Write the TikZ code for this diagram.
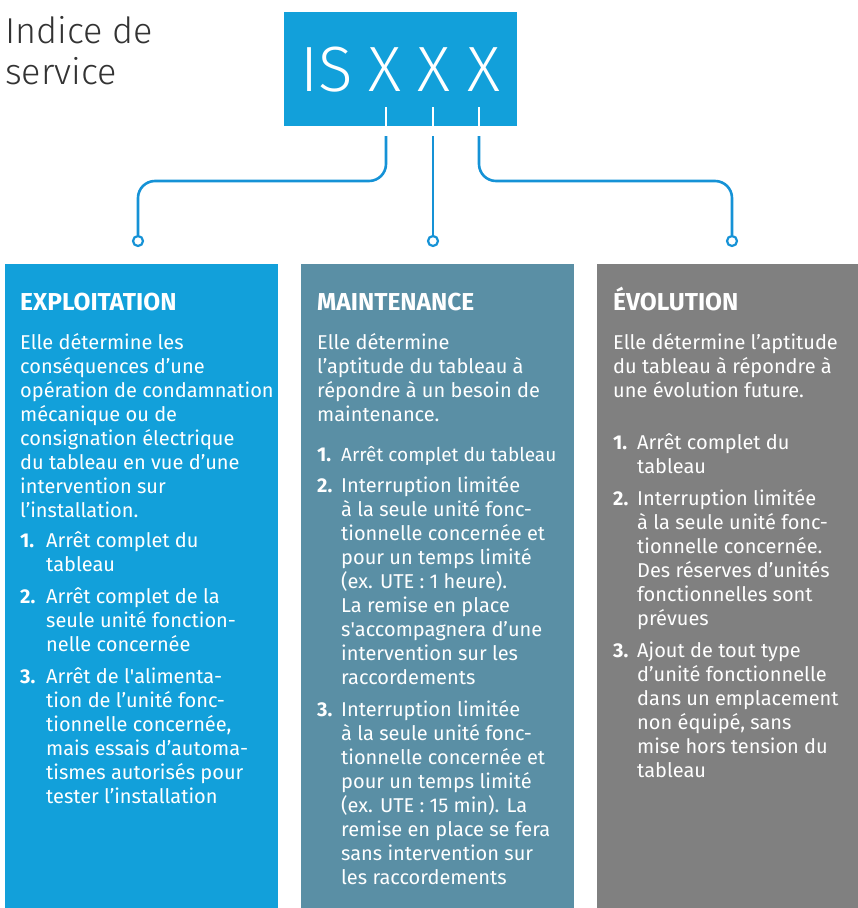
\documentclass[tikz,border=0pt]{standalone}
\usepackage{fontspec}
\setmainfont{Fira Sans}
\newfontfamily\lightfont{Fira Sans Light}
\usepackage{tikz}
\usetikzlibrary{positioning}

\definecolor{isblue}{HTML}{12A0DA}
\definecolor{isteal}{HTML}{5A8FA5}
\definecolor{isgrey}{HTML}{808080}
\definecolor{isline}{HTML}{1592D6}
\definecolor{isdark}{HTML}{333333}

% lines stacked from the baseline of the first one
\newcommand{\colpar}[1]{\begin{tabular}[t]{@{}l@{}}#1\end{tabular}}

\tikzset{
  colbox/.style={inner sep=0pt, anchor=north west, minimum height=644pt},
  codechar/.style={anchor=base, inner sep=0pt, text=white, font=\lightfont\fontsize{64}{64}\selectfont},
  coltitle/.style={anchor=base west, inner sep=0pt, text=white, font=\fontsize{24.5}{26}\selectfont\bfseries},
  coltext/.style={anchor=base west, inner sep=0pt, text=white, font=\fontsize{20}{24}\selectfont},
  itemnum/.style={coltext, font=\fontsize{20}{24}\selectfont\bfseries},
  link/.style={draw=isline, line width=2.6pt, rounded corners=17pt},
  endring/.style={circle, draw=isline, line width=2.2pt, fill=white, minimum size=10pt, inner sep=0pt},
}

\begin{document}
\begin{tikzpicture}[x=1pt,y=-1pt]
\useasboundingbox (0,0) rectangle (858,908);
% heading
\node[anchor=base west, inner sep=0pt, text=isdark, font=\lightfont\fontsize{36}{41}\selectfont] (title) at (5,43) {\colpar{Indice de\\service}};
% code box
\node[fill=isblue, inner sep=0pt, anchor=north west, minimum width=233pt, minimum height=114pt] (code) at (284,12) {};
\node[codechar] (cIS) at (327,91) {IS};
\node[codechar] (cX1) at (385,91) {X};
\node[codechar] (cX2) at (434,91) {X};
\node[codechar] (cX3) at (484,91) {X};
\foreach \n/\x in {1/386,2/433,3/479}{
  \draw[white, line width=1.4pt] (\x,107) -- (\x,126);
  \coordinate (t\n) at (\x,136);
}
% connectors
\coordinate (bend) at (0,181);
\node[endring] (d1) at (138,241) {};
\node[endring] (d2) at (433,241) {};
\node[endring] (d3) at (732,241) {};
\draw[link] (t1) -- (t1 |- bend) -- (d1 |- bend) -- (d1);
\draw[link] (t2) -- (d2);
\draw[link] (t3) -- (t3 |- bend) -- (d3 |- bend) -- (d3);
% columns
\node[colbox, fill=isblue, minimum width=273pt] (colExp) at (5,264) {};
\node[colbox, fill=isteal, minimum width=273pt] (colMaint) at (301,264) {};
\node[colbox, fill=isgrey, minimum width=261pt] (colEvol) at (597,264) {};

% exploitation
\node[coltitle] (hExp) at (20,310) {EXPLOITATION};
\node[coltext] (pExp) at (20,349) {\colpar{Elle détermine les\\conséquences d’une\\opération de condamnation\\mécanique ou de\\consignation électrique\\du tableau en vue d’une\\intervention sur\\l’installation.}};
\node[itemnum] (nExp1) at (20,547) {1.};
\node[coltext] (iExp1) at (46,547) {\colpar{Arrêt complet du\\tableau}};
\node[itemnum] (nExp2) at (20,603) {2.};
\node[coltext] (iExp2) at (46,603) {\colpar{Arrêt complet de la\\seule unité fonction-\\nelle concernée}};
\node[itemnum] (nExp3) at (20,683) {3.};
\node[coltext] (iExp3) at (46,683) {\colpar{Arrêt de l\textquotesingle alimenta-\\tion de l’unité fonc-\\tionnelle concernée,\\mais essais d’automa-\\tismes autorisés pour\\tester l’installation}};

% maintenance
\node[coltitle] (hMaint) at (317,310) {MAINTENANCE};
\node[coltext] (pMaint) at (317,349) {\colpar{Elle détermine\\l’aptitude du tableau à\\répondre à un besoin de\\maintenance.}};
\node[itemnum] (nMaint1) at (317,461) {1.};
\node[coltext, font=\fontsize{19}{24}\selectfont] (iMaint1) at (341,461) {Arrêt complet du tableau};
\node[itemnum] (nMaint2) at (317,492) {2.};
\node[coltext] (iMaint2) at (341,492) {\colpar{Interruption limitée\\à la seule unité fonc-\\tionnelle concernée et\\pour un temps limité\\(ex. UTE : 1 heure).\\La remise en place\\s\textquotesingle accompagnera d’une\\intervention sur les\\raccordements}};
\node[itemnum] (nMaint3) at (317,716) {3.};
\node[coltext] (iMaint3) at (341,716) {\colpar{Interruption limitée\\à la seule unité fonc-\\tionnelle concernée et\\pour un temps limité\\(ex. UTE : 15 min). La\\remise en place se fera\\sans intervention sur\\les raccordements}};

% evolution
\node[coltitle] (hEvol) at (613,310) {ÉVOLUTION};
\node[coltext] (pEvol) at (613,349) {\colpar{Elle détermine l’aptitude\\du tableau à répondre à\\une évolution future.}};
\node[itemnum] (nEvol1) at (613,449) {1.};
\node[coltext] (iEvol1) at (637,449) {\colpar{Arrêt complet du\\tableau}};
\node[itemnum] (nEvol2) at (613,505) {2.};
\node[coltext] (iEvol2) at (637,505) {\colpar{Interruption limitée\\à la seule unité fonc-\\tionnelle concernée.\\Des réserves d’unités\\fonctionnelles sont\\prévues}};
\node[itemnum] (nEvol3) at (613,657) {3.};
\node[coltext] (iEvol3) at (637,657) {\colpar{Ajout de tout type\\d’unité fonctionnelle\\dans un emplacement\\non équipé, sans\\mise hors tension du\\tableau}};
\end{tikzpicture}
\end{document}
